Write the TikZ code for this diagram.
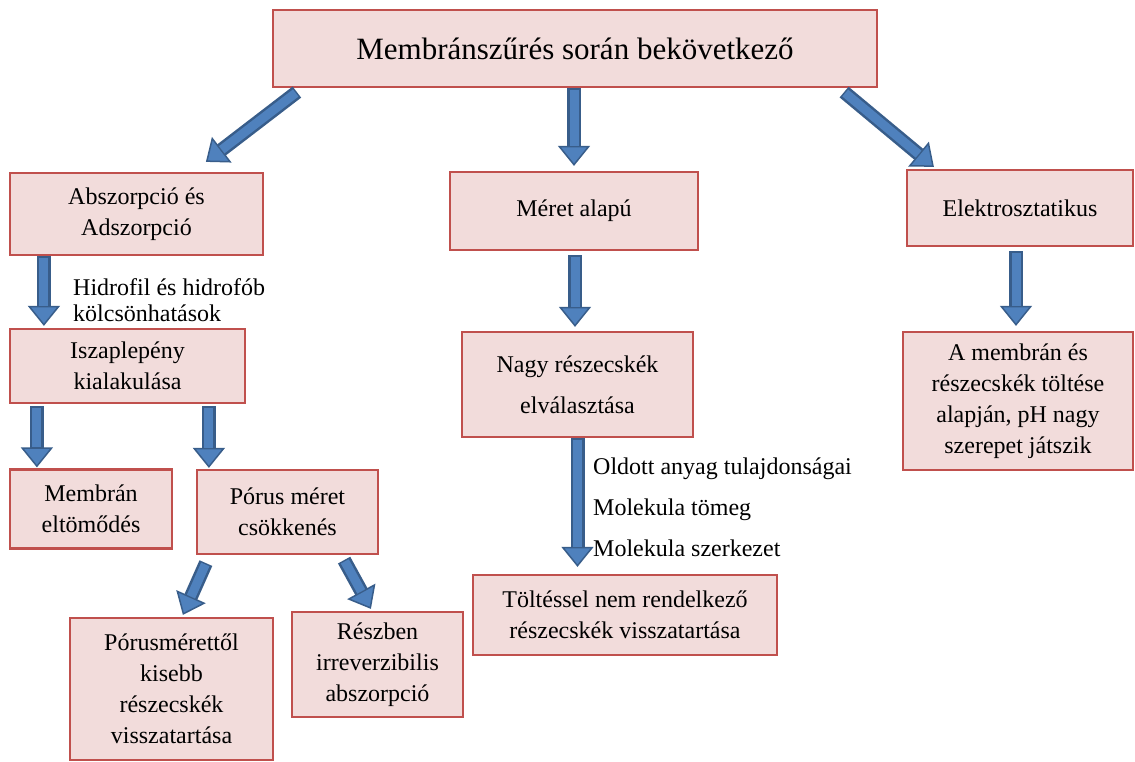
\documentclass[tikz,border=0pt]{standalone}
\usepackage{fontspec}
\setmainfont{Liberation Serif}
\usetikzlibrary{arrows.meta,calc}
\definecolor{boxfill}{HTML}{F2DCDB}
\definecolor{boxline}{HTML}{C0504D}
\definecolor{arrowblue}{HTML}{4F81BD}
\definecolor{arrowdark}{HTML}{385D8A}
\tikzset{
  box/.style={draw=boxline, fill=boxfill, line width=2.2pt, rectangle, align=center,
    inner sep=0pt, font=\fontsize{24}{31}\selectfont},
  blockarrow/.style={line width=14pt, draw=arrowdark,
    -{Triangle[length=20pt,width=32pt,line width=1.5pt,fill=arrowblue]},
    postaction={draw=arrowblue, line width=9pt, -, shorten >=20pt, shorten <=1.5pt}},
  lbl/.style={anchor=west, align=left, inner sep=0pt, font=\fontsize{24}{26}\selectfont}
}
\begin{document}
\begin{tikzpicture}[x=1pt, y=-1pt]
    \useasboundingbox (0,0) rectangle (1135,762);

    % boxes
    \node[box, minimum width=604pt, minimum height=77pt, font=\fontsize{31}{36}\selectfont] (top) at (575,48.5) {Membránszűrés során bekövetkező};
    \node[box, minimum width=253pt, minimum height=82pt] (abs) at (136.5,214) {Abszorpció és\\Adszorpció};
    \node[box, minimum width=248pt, minimum height=78pt] (meret) at (574,211) {Méret alapú};
    \node[box, minimum width=226pt, minimum height=76pt] (elek) at (1020,208) {Elektrosztatikus};
    \node[box, minimum width=235pt, minimum height=74pt] (iszap) at (127.5,366) {Iszaplepény\\kialakulása};
    \node[box, minimum width=162pt, minimum height=79pt] (membr) at (91,509) {Membrán\\eltömődés};
    \node[box, minimum width=181pt, minimum height=84pt] (porus) at (287.5,512) {Pórus méret\\csökkenés};
    \node[box, minimum width=203pt, minimum height=142pt] (porusm) at (171.5,689) {Pórusmérettől\\kisebb\\részecskék\\visszatartása};
    \node[box, minimum width=171pt, minimum height=105pt] (reszben) at (377.5,664.5) {Részben\\irreverzibilis\\abszorpció};
    \node[box, minimum width=231pt, minimum height=105pt] (nagy) at (577.5,384.5) {Nagy részecskék\\[10pt]elválasztása};
    \node[box, minimum width=304pt, minimum height=80pt] (toltes) at (625,615) {Töltéssel nem rendelkező\\részecskék visszatartása};
    \node[box, minimum width=230pt, minimum height=138pt] (amem) at (1018,401) {A membrán és\\részecskék töltése\\alapján, pH nagy\\szerepet játszik};

    % arrow labels
    \node[lbl] (hidro) at (73,300) {Hidrofil és hidrofób\\kölcsönhatások};
    \node[lbl, font=\fontsize{24}{41}\selectfont] (oldott) at (593,507) {Oldott anyag tulajdonságai\\Molekula tömeg\\Molekula szerkezet};

    % arrows
    \draw[blockarrow] ($(top.south west)+(25,4)$) -- ($(abs.north west)+(197,-10)$);
    \draw[blockarrow] (top.south -| meret.north) -- ($(meret.north)+(0,-5)$);
    \draw[blockarrow] ($(top.south east)+(-34,4)$) -- ($(elek.north west)+(28,-2)$);
    \draw[blockarrow] ($(abs.south west)+(35,0)$) -- ($(iszap.north west)+(35,-2)$);
    \draw[blockarrow] ($(iszap.south west)+(28,2)$) -- ($(membr.north west)+(28,-1)$);
    \draw[blockarrow] ($(iszap.south west)+(200,2)$) -- ($(porus.north west)+(13,-1)$);
    \draw[blockarrow] ($(porus.south west)+(10,8)$) -- ($(porusm.north west)+(114,-2)$);
    \draw[blockarrow] ($(porus.south east)+(-35,5)$) -- ($(reszben.north west)+(80,-2)$);
    \draw[blockarrow] ($(meret.south)+(1,4)$) -- ($(nagy.north)+(-2.5,-4)$);
    \draw[blockarrow] (nagy.south) -- ($(nagy.south |- toltes.north)+(0,-7)$);
    \draw[blockarrow] ($(elek.south)+(-4,4)$) -- ($(amem.north)+(-2,-5)$);
\end{tikzpicture}
\end{document}
